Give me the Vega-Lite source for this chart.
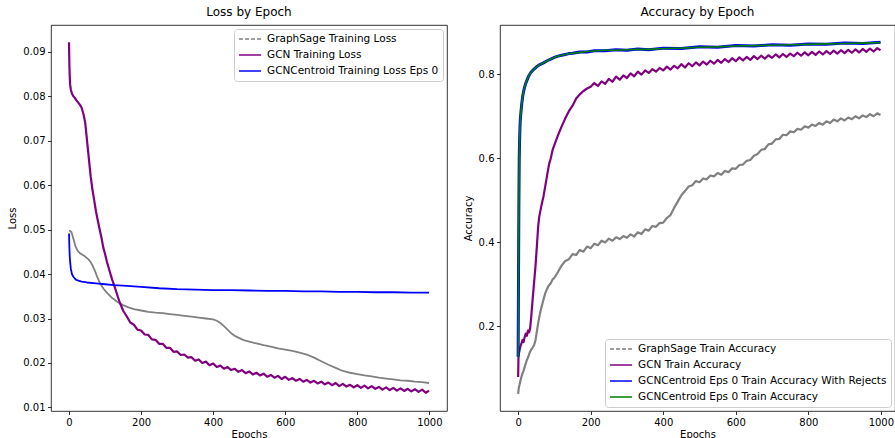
{
  "$schema": "https://vega.github.io/schema/vega-lite/v6.json",
  "background": "white",
  "padding": {"left": 7, "top": 5, "right": 0, "bottom": 0},
  "bounds": "flush",
  "spacing": 53,
  "resolve": {"scale": {"color": "independent"}, "legend": {"color": "independent"}},
  "config": {
    "font": "DejaVu Sans",
    "view": {"stroke": "black", "strokeWidth": 0.8},
    "axis": {"grid": false, "domain": false, "tickColor": "black", "tickSize": 3.5, "tickWidth": 0.8, "labelFontSize": 10, "labelColor": "black", "titleFontSize": 10, "titleFontWeight": "normal", "titleColor": "black", "labelPadding": 2.5, "labelFlush": false, "labelOverlap": false},
    "title": {"fontSize": 12, "fontWeight": "normal", "color": "black", "baseline": "alphabetic", "offset": 6, "anchor": "middle"},
    "legend": {"title": null, "labelFontSize": 10.5, "labelColor": "black", "symbolType": "M-2.2,0H2.2", "symbolStrokeWidth": 1.5, "symbolSize": 100, "symbolOffset": 6, "labelOffset": 11, "strokeColor": "#cccccc", "fillColor": "white", "cornerRadius": 3, "padding": 4, "rowPadding": 4, "labelLimit": 500, "offset": 4}
  },
  "datasets": {
    "loss": [
      {"s":"a","e":0,"v":0.0497},{"s":"a","e":3,"v":0.0497},{"s":"a","e":7,"v":0.0494},{"s":"a","e":12,"v":0.0480},{"s":"a","e":18,"v":0.0462},{"s":"a","e":24,"v":0.0452},{"s":"a","e":30,"v":0.0447},{"s":"a","e":36,"v":0.0444},{"s":"a","e":42,"v":0.0441},{"s":"a","e":48,"v":0.0437},{"s":"a","e":54,"v":0.0433},{"s":"a","e":60,"v":0.0427},{"s":"a","e":66,"v":0.0418},{"s":"a","e":72,"v":0.0407},{"s":"a","e":78,"v":0.0394},{"s":"a","e":84,"v":0.0383},{"s":"a","e":90,"v":0.0374},{"s":"a","e":96,"v":0.0367},{"s":"a","e":102,"v":0.0361},{"s":"a","e":110,"v":0.0354},{"s":"a","e":120,"v":0.0346},{"s":"a","e":130,"v":0.0340},{"s":"a","e":140,"v":0.0334},{"s":"a","e":150,"v":0.0330},{"s":"a","e":165,"v":0.0325},{"s":"a","e":180,"v":0.0321},{"s":"a","e":200,"v":0.0318},{"s":"a","e":220,"v":0.0315},{"s":"a","e":240,"v":0.0313},{"s":"a","e":260,"v":0.0312},{"s":"a","e":280,"v":0.0310},{"s":"a","e":300,"v":0.0308},{"s":"a","e":320,"v":0.0306},{"s":"a","e":340,"v":0.0304},{"s":"a","e":360,"v":0.0302},{"s":"a","e":380,"v":0.0300},{"s":"a","e":400,"v":0.0298},{"s":"a","e":410,"v":0.0295},{"s":"a","e":420,"v":0.0290},{"s":"a","e":430,"v":0.0283},{"s":"a","e":440,"v":0.0275},{"s":"a","e":450,"v":0.0267},{"s":"a","e":460,"v":0.0261},{"s":"a","e":470,"v":0.0257},{"s":"a","e":480,"v":0.0253},{"s":"a","e":490,"v":0.0250},{"s":"a","e":500,"v":0.0248},{"s":"a","e":520,"v":0.0244},{"s":"a","e":540,"v":0.0240},{"s":"a","e":560,"v":0.0237},{"s":"a","e":580,"v":0.0233},{"s":"a","e":600,"v":0.0230},{"s":"a","e":620,"v":0.0227},{"s":"a","e":640,"v":0.0223},{"s":"a","e":660,"v":0.0219},{"s":"a","e":680,"v":0.0212},{"s":"a","e":700,"v":0.0204},{"s":"a","e":720,"v":0.0196},{"s":"a","e":740,"v":0.0189},{"s":"a","e":760,"v":0.0182},{"s":"a","e":780,"v":0.0178},{"s":"a","e":800,"v":0.0175},{"s":"a","e":820,"v":0.0172},{"s":"a","e":840,"v":0.0170},{"s":"a","e":860,"v":0.0167},{"s":"a","e":880,"v":0.0165},{"s":"a","e":900,"v":0.0163},{"s":"a","e":920,"v":0.0161},{"s":"a","e":940,"v":0.0160},{"s":"a","e":960,"v":0.0158},{"s":"a","e":980,"v":0.0157},{"s":"a","e":999,"v":0.0155},
      {"s":"b","e":0,"v":0.0921},{"s":"b","e":1,"v":0.0870},{"s":"b","e":2,"v":0.0845},{"s":"b","e":3,"v":0.0827},{"s":"b","e":5,"v":0.0815},{"s":"b","e":8,"v":0.0806},{"s":"b","e":12,"v":0.0800},{"s":"b","e":16,"v":0.0796},{"s":"b","e":20,"v":0.0791},{"s":"b","e":25,"v":0.0786},{"s":"b","e":30,"v":0.0781},{"s":"b","e":35,"v":0.0774},{"s":"b","e":40,"v":0.0760},{"s":"b","e":45,"v":0.0740},{"s":"b","e":50,"v":0.0700},{"s":"b","e":55,"v":0.0660},{"s":"b","e":60,"v":0.0620},{"s":"b","e":65,"v":0.0590},{"s":"b","e":70,"v":0.0565},{"s":"b","e":75,"v":0.0540},{"s":"b","e":80,"v":0.0520},{"s":"b","e":85,"v":0.0500},{"s":"b","e":90,"v":0.0482},{"s":"b","e":95,"v":0.0460},{"s":"b","e":100,"v":0.0445},{"s":"b","e":105,"v":0.0428},{"s":"b","e":110,"v":0.0414},{"s":"b","e":115,"v":0.0400},{"s":"b","e":120,"v":0.0387},{"s":"b","e":125,"v":0.0375},{"s":"b","e":130,"v":0.0363},{"s":"b","e":135,"v":0.0350},{"s":"b","e":140,"v":0.0338},{"s":"b","e":150,"v":0.0318},{"s":"b","e":160,"v":0.0305},{"s":"b","e":170,"v":0.0291},{"s":"b","e":180,"v":0.0286},{"s":"b","e":190,"v":0.0275},{"s":"b","e":200,"v":0.0273},{"s":"b","e":210,"v":0.0264},{"s":"b","e":220,"v":0.0263},{"s":"b","e":230,"v":0.0253},{"s":"b","e":240,"v":0.0252},{"s":"b","e":250,"v":0.0243},{"s":"b","e":260,"v":0.0243},{"s":"b","e":270,"v":0.0234},{"s":"b","e":280,"v":0.0234},{"s":"b","e":290,"v":0.0225},{"s":"b","e":300,"v":0.0226},{"s":"b","e":310,"v":0.0218},{"s":"b","e":320,"v":0.0219},{"s":"b","e":330,"v":0.0212},{"s":"b","e":340,"v":0.0213},{"s":"b","e":350,"v":0.0205},{"s":"b","e":360,"v":0.0208},{"s":"b","e":370,"v":0.0200},{"s":"b","e":380,"v":0.0203},{"s":"b","e":390,"v":0.0195},{"s":"b","e":400,"v":0.0199},{"s":"b","e":410,"v":0.0191},{"s":"b","e":420,"v":0.0194},{"s":"b","e":430,"v":0.0187},{"s":"b","e":440,"v":0.0191},{"s":"b","e":450,"v":0.0184},{"s":"b","e":460,"v":0.0187},{"s":"b","e":470,"v":0.0180},{"s":"b","e":480,"v":0.0184},{"s":"b","e":490,"v":0.0177},{"s":"b","e":500,"v":0.0181},{"s":"b","e":510,"v":0.0174},{"s":"b","e":520,"v":0.0178},{"s":"b","e":530,"v":0.0172},{"s":"b","e":540,"v":0.0176},{"s":"b","e":550,"v":0.0169},{"s":"b","e":560,"v":0.0173},{"s":"b","e":570,"v":0.0167},{"s":"b","e":580,"v":0.0171},{"s":"b","e":590,"v":0.0164},{"s":"b","e":600,"v":0.0169},{"s":"b","e":610,"v":0.0162},{"s":"b","e":620,"v":0.0166},{"s":"b","e":630,"v":0.0160},{"s":"b","e":640,"v":0.0164},{"s":"b","e":650,"v":0.0158},{"s":"b","e":660,"v":0.0162},{"s":"b","e":670,"v":0.0156},{"s":"b","e":680,"v":0.0160},{"s":"b","e":690,"v":0.0154},{"s":"b","e":700,"v":0.0158},{"s":"b","e":710,"v":0.0152},{"s":"b","e":720,"v":0.0156},{"s":"b","e":730,"v":0.0150},{"s":"b","e":740,"v":0.0155},{"s":"b","e":750,"v":0.0148},{"s":"b","e":760,"v":0.0153},{"s":"b","e":770,"v":0.0147},{"s":"b","e":780,"v":0.0151},{"s":"b","e":790,"v":0.0145},{"s":"b","e":800,"v":0.0150},{"s":"b","e":810,"v":0.0144},{"s":"b","e":820,"v":0.0149},{"s":"b","e":830,"v":0.0143},{"s":"b","e":840,"v":0.0148},{"s":"b","e":850,"v":0.0142},{"s":"b","e":860,"v":0.0146},{"s":"b","e":870,"v":0.0140},{"s":"b","e":880,"v":0.0145},{"s":"b","e":890,"v":0.0139},{"s":"b","e":900,"v":0.0144},{"s":"b","e":910,"v":0.0138},{"s":"b","e":920,"v":0.0143},{"s":"b","e":930,"v":0.0137},{"s":"b","e":940,"v":0.0142},{"s":"b","e":950,"v":0.0136},{"s":"b","e":960,"v":0.0141},{"s":"b","e":970,"v":0.0135},{"s":"b","e":980,"v":0.0140},{"s":"b","e":990,"v":0.0133},{"s":"b","e":999,"v":0.0138},
      {"s":"c","e":0,"v":0.0491},{"s":"c","e":1,"v":0.0460},{"s":"c","e":2,"v":0.0440},{"s":"c","e":3,"v":0.0428},{"s":"c","e":5,"v":0.0412},{"s":"c","e":8,"v":0.0400},{"s":"c","e":12,"v":0.0394},{"s":"c","e":16,"v":0.0390},{"s":"c","e":20,"v":0.0387},{"s":"c","e":26,"v":0.0385},{"s":"c","e":35,"v":0.0383},{"s":"c","e":50,"v":0.0381},{"s":"c","e":75,"v":0.0379},{"s":"c","e":100,"v":0.0377},{"s":"c","e":125,"v":0.0375},{"s":"c","e":150,"v":0.0374},{"s":"c","e":200,"v":0.0371},{"s":"c","e":250,"v":0.0368},{"s":"c","e":300,"v":0.0366},{"s":"c","e":350,"v":0.0365},{"s":"c","e":400,"v":0.0364},{"s":"c","e":450,"v":0.0364},{"s":"c","e":500,"v":0.0363},{"s":"c","e":550,"v":0.0362},{"s":"c","e":600,"v":0.0362},{"s":"c","e":650,"v":0.0361},{"s":"c","e":700,"v":0.0361},{"s":"c","e":750,"v":0.0360},{"s":"c","e":800,"v":0.0360},{"s":"c","e":850,"v":0.0359},{"s":"c","e":900,"v":0.0359},{"s":"c","e":950,"v":0.0358},{"s":"c","e":999,"v":0.0358}
    ],
    "acc": [
      {"s":"a","e":0,"v":0.040},{"s":"a","e":2,"v":0.055},{"s":"a","e":4,"v":0.062},{"s":"a","e":6,"v":0.070},{"s":"a","e":9,"v":0.080},{"s":"a","e":12,"v":0.088},{"s":"a","e":15,"v":0.095},{"s":"a","e":18,"v":0.104},{"s":"a","e":21,"v":0.112},{"s":"a","e":24,"v":0.120},{"s":"a","e":28,"v":0.128},{"s":"a","e":32,"v":0.138},{"s":"a","e":36,"v":0.145},{"s":"a","e":40,"v":0.150},{"s":"a","e":44,"v":0.156},{"s":"a","e":48,"v":0.168},{"s":"a","e":52,"v":0.190},{"s":"a","e":56,"v":0.212},{"s":"a","e":60,"v":0.230},{"s":"a","e":65,"v":0.248},{"s":"a","e":70,"v":0.264},{"s":"a","e":75,"v":0.280},{"s":"a","e":80,"v":0.290},{"s":"a","e":85,"v":0.298},{"s":"a","e":90,"v":0.303},{"s":"a","e":95,"v":0.312},{"s":"a","e":100,"v":0.316},{"s":"a","e":110,"v":0.330},{"s":"a","e":120,"v":0.345},{"s":"a","e":130,"v":0.356},{"s":"a","e":140,"v":0.360},{"s":"a","e":150,"v":0.372},{"s":"a","e":160,"v":0.370},{"s":"a","e":170,"v":0.382},{"s":"a","e":180,"v":0.378},{"s":"a","e":190,"v":0.390},{"s":"a","e":200,"v":0.386},{"s":"a","e":210,"v":0.397},{"s":"a","e":220,"v":0.393},{"s":"a","e":230,"v":0.404},{"s":"a","e":240,"v":0.400},{"s":"a","e":250,"v":0.409},{"s":"a","e":260,"v":0.404},{"s":"a","e":270,"v":0.412},{"s":"a","e":280,"v":0.408},{"s":"a","e":290,"v":0.415},{"s":"a","e":300,"v":0.411},{"s":"a","e":310,"v":0.419},{"s":"a","e":320,"v":0.414},{"s":"a","e":330,"v":0.424},{"s":"a","e":340,"v":0.420},{"s":"a","e":350,"v":0.431},{"s":"a","e":360,"v":0.428},{"s":"a","e":370,"v":0.439},{"s":"a","e":380,"v":0.437},{"s":"a","e":390,"v":0.446},{"s":"a","e":400,"v":0.447},{"s":"a","e":410,"v":0.458},{"s":"a","e":420,"v":0.465},{"s":"a","e":430,"v":0.482},{"s":"a","e":440,"v":0.497},{"s":"a","e":450,"v":0.512},{"s":"a","e":460,"v":0.522},{"s":"a","e":470,"v":0.533},{"s":"a","e":480,"v":0.536},{"s":"a","e":490,"v":0.546},{"s":"a","e":500,"v":0.543},{"s":"a","e":510,"v":0.552},{"s":"a","e":520,"v":0.550},{"s":"a","e":530,"v":0.559},{"s":"a","e":540,"v":0.557},{"s":"a","e":550,"v":0.565},{"s":"a","e":560,"v":0.561},{"s":"a","e":570,"v":0.570},{"s":"a","e":580,"v":0.567},{"s":"a","e":590,"v":0.576},{"s":"a","e":600,"v":0.575},{"s":"a","e":610,"v":0.584},{"s":"a","e":620,"v":0.585},{"s":"a","e":630,"v":0.594},{"s":"a","e":640,"v":0.596},{"s":"a","e":650,"v":0.606},{"s":"a","e":660,"v":0.610},{"s":"a","e":670,"v":0.620},{"s":"a","e":680,"v":0.622},{"s":"a","e":690,"v":0.633},{"s":"a","e":700,"v":0.635},{"s":"a","e":710,"v":0.645},{"s":"a","e":720,"v":0.646},{"s":"a","e":730,"v":0.656},{"s":"a","e":740,"v":0.655},{"s":"a","e":750,"v":0.664},{"s":"a","e":760,"v":0.662},{"s":"a","e":770,"v":0.670},{"s":"a","e":780,"v":0.668},{"s":"a","e":790,"v":0.676},{"s":"a","e":800,"v":0.673},{"s":"a","e":810,"v":0.680},{"s":"a","e":820,"v":0.677},{"s":"a","e":830,"v":0.684},{"s":"a","e":840,"v":0.680},{"s":"a","e":850,"v":0.688},{"s":"a","e":860,"v":0.684},{"s":"a","e":870,"v":0.692},{"s":"a","e":880,"v":0.688},{"s":"a","e":890,"v":0.695},{"s":"a","e":900,"v":0.690},{"s":"a","e":910,"v":0.697},{"s":"a","e":920,"v":0.693},{"s":"a","e":930,"v":0.700},{"s":"a","e":940,"v":0.695},{"s":"a","e":950,"v":0.702},{"s":"a","e":960,"v":0.698},{"s":"a","e":970,"v":0.705},{"s":"a","e":980,"v":0.700},{"s":"a","e":990,"v":0.707},{"s":"a","e":999,"v":0.703},
      {"s":"b","e":0,"v":0.080},{"s":"b","e":1,"v":0.128},{"s":"b","e":3,"v":0.140},{"s":"b","e":6,"v":0.152},{"s":"b","e":9,"v":0.159},{"s":"b","e":12,"v":0.168},{"s":"b","e":15,"v":0.163},{"s":"b","e":18,"v":0.175},{"s":"b","e":21,"v":0.183},{"s":"b","e":24,"v":0.178},{"s":"b","e":27,"v":0.190},{"s":"b","e":30,"v":0.186},{"s":"b","e":33,"v":0.195},{"s":"b","e":36,"v":0.222},{"s":"b","e":40,"v":0.265},{"s":"b","e":44,"v":0.305},{"s":"b","e":48,"v":0.345},{"s":"b","e":52,"v":0.395},{"s":"b","e":55,"v":0.435},{"s":"b","e":58,"v":0.460},{"s":"b","e":62,"v":0.478},{"s":"b","e":66,"v":0.495},{"s":"b","e":70,"v":0.510},{"s":"b","e":75,"v":0.535},{"s":"b","e":80,"v":0.560},{"s":"b","e":85,"v":0.585},{"s":"b","e":90,"v":0.600},{"s":"b","e":95,"v":0.620},{"s":"b","e":100,"v":0.632},{"s":"b","e":110,"v":0.655},{"s":"b","e":120,"v":0.676},{"s":"b","e":130,"v":0.695},{"s":"b","e":140,"v":0.712},{"s":"b","e":150,"v":0.725},{"s":"b","e":160,"v":0.742},{"s":"b","e":170,"v":0.752},{"s":"b","e":180,"v":0.760},{"s":"b","e":190,"v":0.766},{"s":"b","e":200,"v":0.770},{"s":"b","e":210,"v":0.779},{"s":"b","e":220,"v":0.772},{"s":"b","e":230,"v":0.783},{"s":"b","e":240,"v":0.777},{"s":"b","e":250,"v":0.789},{"s":"b","e":260,"v":0.782},{"s":"b","e":270,"v":0.794},{"s":"b","e":280,"v":0.787},{"s":"b","e":290,"v":0.797},{"s":"b","e":300,"v":0.791},{"s":"b","e":310,"v":0.802},{"s":"b","e":320,"v":0.795},{"s":"b","e":330,"v":0.806},{"s":"b","e":340,"v":0.799},{"s":"b","e":350,"v":0.809},{"s":"b","e":360,"v":0.803},{"s":"b","e":370,"v":0.812},{"s":"b","e":380,"v":0.806},{"s":"b","e":390,"v":0.815},{"s":"b","e":400,"v":0.809},{"s":"b","e":410,"v":0.818},{"s":"b","e":420,"v":0.811},{"s":"b","e":430,"v":0.820},{"s":"b","e":440,"v":0.814},{"s":"b","e":450,"v":0.824},{"s":"b","e":460,"v":0.816},{"s":"b","e":470,"v":0.826},{"s":"b","e":480,"v":0.819},{"s":"b","e":490,"v":0.828},{"s":"b","e":500,"v":0.821},{"s":"b","e":510,"v":0.830},{"s":"b","e":520,"v":0.823},{"s":"b","e":530,"v":0.832},{"s":"b","e":540,"v":0.825},{"s":"b","e":550,"v":0.834},{"s":"b","e":560,"v":0.827},{"s":"b","e":570,"v":0.836},{"s":"b","e":580,"v":0.829},{"s":"b","e":590,"v":0.838},{"s":"b","e":600,"v":0.831},{"s":"b","e":610,"v":0.840},{"s":"b","e":620,"v":0.833},{"s":"b","e":630,"v":0.841},{"s":"b","e":640,"v":0.834},{"s":"b","e":650,"v":0.843},{"s":"b","e":660,"v":0.836},{"s":"b","e":670,"v":0.844},{"s":"b","e":680,"v":0.837},{"s":"b","e":690,"v":0.845},{"s":"b","e":700,"v":0.839},{"s":"b","e":710,"v":0.847},{"s":"b","e":720,"v":0.840},{"s":"b","e":730,"v":0.848},{"s":"b","e":740,"v":0.841},{"s":"b","e":750,"v":0.849},{"s":"b","e":760,"v":0.843},{"s":"b","e":770,"v":0.851},{"s":"b","e":780,"v":0.844},{"s":"b","e":790,"v":0.852},{"s":"b","e":800,"v":0.845},{"s":"b","e":810,"v":0.853},{"s":"b","e":820,"v":0.846},{"s":"b","e":830,"v":0.854},{"s":"b","e":840,"v":0.847},{"s":"b","e":850,"v":0.855},{"s":"b","e":860,"v":0.848},{"s":"b","e":870,"v":0.856},{"s":"b","e":880,"v":0.849},{"s":"b","e":890,"v":0.857},{"s":"b","e":900,"v":0.850},{"s":"b","e":910,"v":0.858},{"s":"b","e":920,"v":0.851},{"s":"b","e":930,"v":0.859},{"s":"b","e":940,"v":0.852},{"s":"b","e":950,"v":0.860},{"s":"b","e":960,"v":0.853},{"s":"b","e":970,"v":0.861},{"s":"b","e":980,"v":0.854},{"s":"b","e":990,"v":0.862},{"s":"b","e":999,"v":0.857},
      {"s":"c","e":0,"v":0.128},{"s":"c","e":1,"v":0.313},{"s":"c","e":2,"v":0.484},{"s":"c","e":3,"v":0.598},{"s":"c","e":4,"v":0.642},{"s":"c","e":5,"v":0.672},{"s":"c","e":6,"v":0.692},{"s":"c","e":8,"v":0.712},{"s":"c","e":10,"v":0.730},{"s":"c","e":13,"v":0.750},{"s":"c","e":16,"v":0.763},{"s":"c","e":20,"v":0.776},{"s":"c","e":25,"v":0.787},{"s":"c","e":30,"v":0.797},{"s":"c","e":35,"v":0.804},{"s":"c","e":40,"v":0.809},{"s":"c","e":50,"v":0.817},{"s":"c","e":60,"v":0.823},{"s":"c","e":70,"v":0.827},{"s":"c","e":80,"v":0.832},{"s":"c","e":90,"v":0.836},{"s":"c","e":100,"v":0.840},{"s":"c","e":110,"v":0.843},{"s":"c","e":120,"v":0.845},{"s":"c","e":130,"v":0.847},{"s":"c","e":140,"v":0.849},{"s":"c","e":150,"v":0.850},{"s":"c","e":170,"v":0.853},{"s":"c","e":190,"v":0.853},{"s":"c","e":210,"v":0.856},{"s":"c","e":240,"v":0.856},{"s":"c","e":270,"v":0.858},{"s":"c","e":300,"v":0.857},{"s":"c","e":330,"v":0.860},{"s":"c","e":360,"v":0.858},{"s":"c","e":400,"v":0.862},{"s":"c","e":450,"v":0.861},{"s":"c","e":500,"v":0.865},{"s":"c","e":550,"v":0.864},{"s":"c","e":600,"v":0.868},{"s":"c","e":650,"v":0.867},{"s":"c","e":700,"v":0.870},{"s":"c","e":750,"v":0.869},{"s":"c","e":800,"v":0.872},{"s":"c","e":850,"v":0.871},{"s":"c","e":900,"v":0.874},{"s":"c","e":950,"v":0.873},{"s":"c","e":999,"v":0.876},
      {"s":"d","e":0,"v":0.128},{"s":"d","e":1,"v":0.313},{"s":"d","e":2,"v":0.484},{"s":"d","e":3,"v":0.598},{"s":"d","e":4,"v":0.642},{"s":"d","e":5,"v":0.672},{"s":"d","e":6,"v":0.692},{"s":"d","e":8,"v":0.712},{"s":"d","e":10,"v":0.730},{"s":"d","e":13,"v":0.750},{"s":"d","e":16,"v":0.763},{"s":"d","e":20,"v":0.776},{"s":"d","e":25,"v":0.787},{"s":"d","e":30,"v":0.797},{"s":"d","e":35,"v":0.804},{"s":"d","e":40,"v":0.809},{"s":"d","e":50,"v":0.817},{"s":"d","e":60,"v":0.823},{"s":"d","e":70,"v":0.827},{"s":"d","e":80,"v":0.832},{"s":"d","e":90,"v":0.836},{"s":"d","e":100,"v":0.840},{"s":"d","e":110,"v":0.843},{"s":"d","e":120,"v":0.845},{"s":"d","e":130,"v":0.847},{"s":"d","e":140,"v":0.849},{"s":"d","e":150,"v":0.850},{"s":"d","e":170,"v":0.852},{"s":"d","e":190,"v":0.854},{"s":"d","e":210,"v":0.855},{"s":"d","e":240,"v":0.857},{"s":"d","e":270,"v":0.857},{"s":"d","e":300,"v":0.858},{"s":"d","e":330,"v":0.859},{"s":"d","e":360,"v":0.859},{"s":"d","e":400,"v":0.861},{"s":"d","e":450,"v":0.862},{"s":"d","e":500,"v":0.864},{"s":"d","e":550,"v":0.865},{"s":"d","e":600,"v":0.867},{"s":"d","e":650,"v":0.868},{"s":"d","e":700,"v":0.869},{"s":"d","e":750,"v":0.870},{"s":"d","e":800,"v":0.871},{"s":"d","e":850,"v":0.872},{"s":"d","e":900,"v":0.873},{"s":"d","e":950,"v":0.874},{"s":"d","e":999,"v":0.875}
    ]
  },
  "hconcat": [
    {
      "title": {"text": "Loss by Epoch"},
      "width": 396,
      "height": 386,
      "data": {"name": "loss"},
      "mark": {"type": "line", "strokeJoin": "round", "clip": true},
      "encoding": {
        "x": {"field": "e", "type": "quantitative", "title": "Epochs", "scale": {"domain": [-50, 1049], "nice": false, "zero": false}, "axis": {"values": [0, 200, 400, 600, 800, 1000], "format": "d", "titlePadding": 2}},
        "y": {"field": "v", "type": "quantitative", "title": "Loss", "scale": {"domain": [0.0092, 0.096], "nice": false, "zero": false}, "axis": {"values": [0.01, 0.02, 0.03, 0.04, 0.05, 0.06, 0.07, 0.08, 0.09], "format": ".2f", "titlePadding": 5}},
        "color": {"field": "s", "type": "nominal", "scale": {"domain": ["a", "b", "c"], "range": ["#808080", "#800080", "#0000ff"]},
          "legend": {"orient": "top-right", "labelExpr": "datum.label == 'a' ? 'GraphSage Training Loss' : datum.label == 'b' ? 'GCN Training Loss' : 'GCNCentroid Training Loss Eps 0'",
            "encode": {"symbols": {"update": {"strokeWidth": {"value": 1.5}, "strokeDash": {"signal": "datum.value == 'a' ? [4, 2] : []"}}}}}},
        "strokeWidth": {"condition": {"test": "datum.s == 'b'", "value": 2.2}, "value": 1.8}
      }
    },
    {
      "title": {"text": "Accuracy by Epoch"},
      "width": 395,
      "height": 386,
      "data": {"name": "acc"},
      "mark": {"type": "line", "strokeJoin": "round", "clip": true},
      "encoding": {
        "x": {"field": "e", "type": "quantitative", "title": "Epochs", "scale": {"domain": [-50, 1039], "nice": false, "zero": false}, "axis": {"values": [0, 200, 400, 600, 800, 1000], "format": "d", "titlePadding": 2}},
        "y": {"field": "v", "type": "quantitative", "title": "Accuracy", "scale": {"domain": [-0.001, 0.917], "nice": false, "zero": false}, "axis": {"values": [0.2, 0.4, 0.6, 0.8], "format": ".1f", "titlePadding": 5}},
        "color": {"field": "s", "type": "nominal", "scale": {"domain": ["a", "b", "c", "d"], "range": ["#808080", "#800080", "#0000ff", "#008000"]},
          "legend": {"orient": "bottom-right", "labelExpr": "datum.label == 'a' ? 'GraphSage Train Accuracy' : datum.label == 'b' ? 'GCN Train Accuracy' : datum.label == 'c' ? 'GCNCentroid Eps 0 Train Accuracy With Rejects' : 'GCNCentroid Eps 0 Train Accuracy'",
            "encode": {"symbols": {"update": {"strokeWidth": {"value": 1.5}, "strokeDash": {"signal": "datum.value == 'a' ? [4, 2] : []"}}}}}},
        "strokeWidth": {"condition": [{"test": "datum.s == 'c'", "value": 3}, {"test": "datum.s == 'd'", "value": 1.6}], "value": 2.2}
      }
    }
  ]
}
